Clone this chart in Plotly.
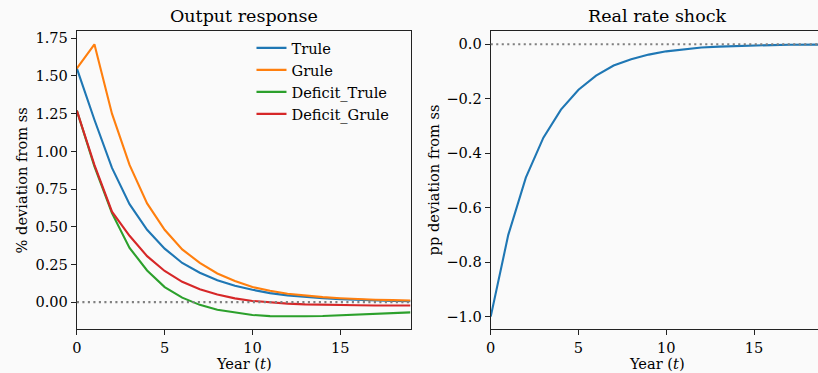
import plotly.graph_objects as go

# Years after the shock
years = list(range(20))

# Output response (% deviation from steady state)
trule = [1.55, 1.21, 0.89, 0.65, 0.48, 0.355, 0.26, 0.195, 0.145, 0.108,
         0.082, 0.060, 0.045, 0.034, 0.026, 0.020, 0.015, 0.011, 0.008, 0.006]
grule = [1.55, 1.71, 1.25, 0.91, 0.655, 0.48, 0.35, 0.26, 0.19, 0.14,
         0.100, 0.075, 0.056, 0.043, 0.033, 0.026, 0.020, 0.016, 0.013, 0.011]
deficit_trule = [1.27, 0.90, 0.59, 0.36, 0.21, 0.10, 0.03, -0.018, -0.05, -0.07,
                 -0.085, -0.093, -0.095, -0.094, -0.092, -0.088, -0.084, -0.079, -0.074, -0.068]
deficit_grule = [1.27, 0.91, 0.60, 0.44, 0.305, 0.207, 0.135, 0.085, 0.05, 0.025,
                 0.008, -0.003, -0.010, -0.015, -0.018, -0.020, -0.021, -0.022, -0.022, -0.022]

# Real rate shock (pp deviation from steady state)
real_rate = [-1.0, -0.70, -0.49, -0.343, -0.24, -0.167, -0.115, -0.078, -0.055, -0.038,
             -0.026, -0.018, -0.012, -0.0085, -0.006, -0.004, -0.003, -0.002, -0.0014, -0.001]

series = [("Trule", trule, "#1f77b4"),
          ("Grule", grule, "#ff7f0e"),
          ("Deficit_Trule", deficit_trule, "#2ca02c"),
          ("Deficit_Grule", deficit_grule, "#d62728")]

W, H = 818, 373
FONT = "DejaVu Serif"
BG = "#fafafa"
SPINE = "#222222"
TXT = 14.6
TITLE = 17.5

fig = go.Figure()
for name, vals, col in series:
    fig.add_trace(go.Scatter(x=years, y=vals, mode="lines", name=name,
                             line=dict(color=col, width=2.1),
                             xaxis="x", yaxis="y"))
fig.add_trace(go.Scatter(x=years, y=real_rate, mode="lines", showlegend=False,
                         line=dict(color="#1f77b4", width=2.1),
                         xaxis="x2", yaxis="y2"))

def px(v):
    return v / W

def py(v):
    return 1 - v / H

ydom = [py(329), py(30)]
axis_common = dict(showline=True, linecolor=SPINE, linewidth=1.1,
                   ticks="outside", ticklen=5, tickwidth=1.1, tickcolor=SPINE,
                   showgrid=False, zeroline=False,
                   tickfont=dict(family=FONT, size=TXT, color="#000"))

fig.update_layout(
    width=W, height=H,
    margin=dict(l=0, r=0, t=0, b=0),
    paper_bgcolor=BG, plot_bgcolor=BG,
    font=dict(family=FONT, size=TXT, color="#000"),
    xaxis=dict(domain=[px(72.3), px(408)], range=[0, 19],
               tickvals=[0, 5, 10, 15], mirror=True, anchor="y", **axis_common),
    yaxis=dict(domain=ydom, range=[-0.179, 1.799],
               tickvals=[0, 0.25, 0.5, 0.75, 1.0, 1.25, 1.5, 1.75],
               tickformat=".2f", mirror=True, anchor="x", **axis_common),
    xaxis2=dict(domain=[px(488.7), 1.0], range=[0, 18.64],
                tickvals=[0, 5, 10, 15], mirror=True, anchor="y2", **axis_common),
    yaxis2=dict(domain=ydom, range=[-1.046, 0.049],
                tickvals=[0, -0.2, -0.4, -0.6, -0.8, -1.0],
                tickformat=".1f", mirror=False, anchor="x2", **axis_common),
    legend=dict(x=px(248), y=py(31), xanchor="left", yanchor="top",
                bgcolor="rgba(0,0,0,0)", borderwidth=0, tracegroupgap=0,
                font=dict(family=FONT, size=TXT, color="#000")),
    showlegend=True,
)

# Zero reference lines (dotted grey)
for xr, yr in [("x domain", "y"), ("x2 domain", "y2")]:
    fig.add_shape(type="line", xref=xr, yref=yr, x0=0, x1=1, y0=0, y1=0,
                  line=dict(color="#808080", width=2.1, dash="2.1px,3.4px"), layer="above")

# Panel titles and axis labels
ann = [
    dict(text="Output response", x=px(240), y=py(15), size=TITLE, angle=0),
    dict(text="Real rate shock", x=px(656), y=py(15), size=TITLE, angle=0),
    dict(text="Year (<i>t</i>)", x=px(240), y=py(363), size=TXT, angle=0),
    dict(text="Year (<i>t</i>)", x=px(656), y=py(363), size=TXT, angle=0),
    dict(text="% deviation from ss", x=px(16.5), y=py(179.5), size=TXT, angle=-90),
    dict(text="pp deviation from ss", x=px(431), y=py(179.5), size=TXT, angle=-90),
]
for a in ann:
    fig.add_annotation(text=a["text"], x=a["x"], y=a["y"], xref="paper", yref="paper",
                       xanchor="center", yanchor="middle", showarrow=False,
                       textangle=a["angle"],
                       font=dict(family=FONT, size=a["size"], color="#000"))

fig.write_html("out.html")
